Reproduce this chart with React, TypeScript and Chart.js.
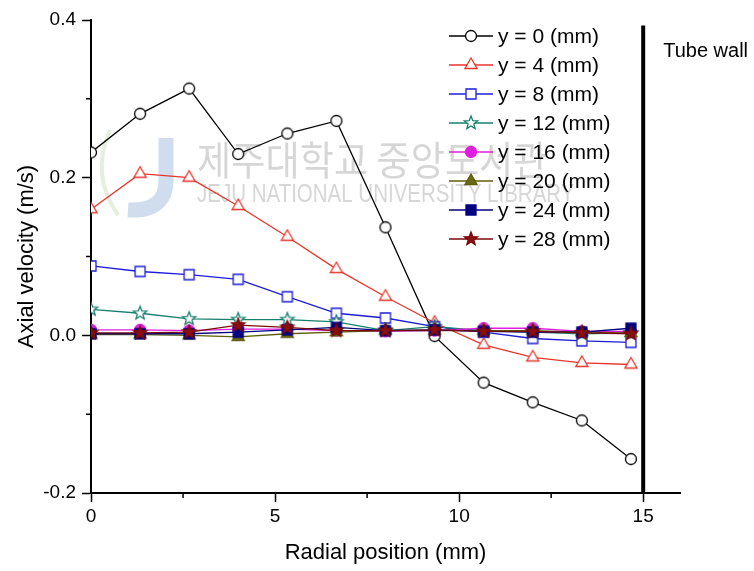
import React, { useEffect, useRef } from 'react';
import { Chart, registerables } from 'chart.js';

Chart.register(...registerables);

// ---------------- data ----------------
const radialPosition = [0, 1.333, 2.667, 4, 5.333, 6.667, 8, 9.333, 10.667, 12, 13.333, 14.667];

const seriesLabels = [
  'y = 0 (mm)', 'y = 4 (mm)', 'y = 8 (mm)', 'y = 12 (mm)',
  'y = 16 (mm)', 'y = 20 (mm)', 'y = 24 (mm)', 'y = 28 (mm)',
];

const velY0 = [0.232, 0.281, 0.313, 0.230, 0.256, 0.272, 0.137, -0.001, -0.060, -0.085, -0.108, -0.157];
const velY4 = [0.160, 0.205, 0.200, 0.164, 0.125, 0.084, 0.049, 0.016, -0.012, -0.028, -0.035, -0.037];
const velY8 = [0.088, 0.081, 0.077, 0.071, 0.049, 0.028, 0.022, 0.011, 0.004, -0.004, -0.007, -0.009];
const velY12 = [0.033, 0.028, 0.021, 0.020, 0.020, 0.017, 0.006, 0.011, 0.006, 0.004, 0.002, 0.003];
const velY16 = [0.007, 0.007, 0.006, 0.008, 0.008, 0.006, 0.005, 0.006, 0.009, 0.009, 0.005, 0.005];
const velY20 = [0.001, 0.001, 0.000, -0.002, 0.002, 0.004, 0.006, 0.006, 0.006, 0.006, 0.004, 0.003];
const velY24 = [0.002, 0.002, 0.002, 0.004, 0.007, 0.010, 0.006, 0.007, 0.005, 0.004, 0.004, 0.009];
const velY28 = [0.003, 0.003, 0.004, 0.013, 0.010, 0.006, 0.006, 0.007, 0.005, 0.005, 0.003, 0.002];

const seriesValues = [velY0, velY4, velY8, velY12, velY16, velY20, velY24, velY28];

const xTickLabels = ['0', '5', '10', '15'];
const yTickLabels = ['-0.2', '0.0', '0.2', '0.4'];

const xTitle = 'Radial position (mm)';
const yTitle = 'Axial velocity (m/s)';
const tubeWallLabel = 'Tube wall';
const tubeWallX = 15;
const watermarkKo = '제주대학교 중앙도서관';
const watermarkEn = 'JEJU NATIONAL UNIVERSITY LIBRARY';

// ---------------- styles ----------------
type Shape = 'circle' | 'triangle' | 'square' | 'star';
const seriesStyle: { color: string; shape: Shape; fill: string }[] = [
  { color: '#000000', shape: 'circle', fill: '#ffffff' },
  { color: '#e8352b', shape: 'triangle', fill: '#ffffff' },
  { color: '#1c1cd6', shape: 'square', fill: '#ffffff' },
  { color: '#17806d', shape: 'star', fill: '#ffffff' },
  { color: '#e01ee0', shape: 'circle', fill: '#e01ee0' },
  { color: '#5e5e0a', shape: 'triangle', fill: '#6b6b14' },
  { color: '#000080', shape: 'square', fill: '#000080' },
  { color: '#7a0a0a', shape: 'star', fill: '#8a1010' },
];

const FONT = '"Liberation Sans", Arial, sans-serif';

function makeMarker(shape: Shape, stroke: string, fill: string): HTMLCanvasElement {
  const size = 18;
  const c = document.createElement('canvas');
  c.width = size;
  c.height = size;
  const ctx = c.getContext('2d')!;
  const cx = size / 2;
  const cy = size / 2;
  ctx.lineWidth = 1.3;
  ctx.strokeStyle = stroke;
  ctx.fillStyle = fill;
  ctx.beginPath();
  if (shape === 'circle') {
    ctx.arc(cx, cy, 5.5, 0, Math.PI * 2);
  } else if (shape === 'square') {
    ctx.rect(cx - 5, cy - 5, 10, 10);
  } else if (shape === 'triangle') {
    const r = 7;
    ctx.moveTo(cx, cy - r);
    ctx.lineTo(cx + r * 0.866, cy + r * 0.5);
    ctx.lineTo(cx - r * 0.866, cy + r * 0.5);
    ctx.closePath();
  } else {
    const ro = 7;
    const ri = 3;
    for (let i = 0; i < 10; i++) {
      const a = -Math.PI / 2 + (i * Math.PI) / 5;
      const r = i % 2 === 0 ? ro : ri;
      const px = cx + r * Math.cos(a);
      const py = cy + r * Math.sin(a);
      if (i === 0) ctx.moveTo(px, py);
      else ctx.lineTo(px, py);
    }
    ctx.closePath();
  }
  ctx.fill();
  ctx.stroke();
  return c;
}

export default function App() {
  const canvasRef = useRef<HTMLCanvasElement | null>(null);

  useEffect(() => {
    const canvas = canvasRef.current;
    if (!canvas) return;

    const markers = seriesStyle.map((s) => makeMarker(s.shape, s.color, s.fill));

    const datasets = seriesLabels.map((label, i) => ({
      label,
      data: radialPosition.map((x, k) => ({ x, y: seriesValues[i][k] })),
      showLine: true,
      borderColor: seriesStyle[i].color,
      backgroundColor: seriesStyle[i].fill,
      borderWidth: 1.3,
      pointStyle: markers[i] as any,
      pointRadius: 5,
      pointHoverRadius: 5,
      order: seriesLabels.length - i,
      tension: 0,
    }));

    const decor = {
      id: 'decor',
      beforeDatasetsDraw(chart: any) {
        const ctx = chart.ctx as CanvasRenderingContext2D;
        ctx.save();
        // faint logo-like "J"
        ctx.strokeStyle = 'rgba(130,165,210,0.38)';
        ctx.lineWidth = 15;
        ctx.lineCap = 'butt';
        ctx.beginPath();
        ctx.moveTo(166, 138);
        ctx.lineTo(166, 180);
        ctx.quadraticCurveTo(166, 212, 128, 210);
        ctx.stroke();
        ctx.strokeStyle = 'rgba(170,200,150,0.3)';
        ctx.lineWidth = 4;
        ctx.beginPath();
        ctx.moveTo(110, 130);
        ctx.quadraticCurveTo(90, 175, 118, 215);
        ctx.stroke();
        // watermark text
        ctx.fillStyle = 'rgba(130,130,130,0.33)';
        ctx.textBaseline = 'middle';
        ctx.textAlign = 'left';
        ctx.save();
        ctx.translate(197, 160);
        ctx.scale(0.93, 1);
        ctx.font = '40px "Noto Sans CJK KR", sans-serif';
        ctx.fillText(watermarkKo, 0, 0);
        ctx.restore();
        ctx.save();
        ctx.translate(197, 195);
        ctx.scale(0.82, 1);
        ctx.font = '25px ' + FONT;
        ctx.fillText(watermarkEn, 0, 0);
        ctx.restore();
        ctx.restore();
      },
      afterDatasetsDraw(chart: any) {
        const ctx = chart.ctx as CanvasRenderingContext2D;
        const xs = chart.scales.x;
        const ys = chart.scales.y;
        const area = chart.chartArea;
        ctx.save();
        // minor ticks
        ctx.strokeStyle = '#000';
        ctx.lineWidth = 1.5;
        ctx.beginPath();
        for (const v of [2.5, 7.5, 12.5]) {
          const px = xs.getPixelForValue(v);
          ctx.moveTo(px, area.bottom);
          ctx.lineTo(px, area.bottom + 5);
        }
        for (const v of [0.3, 0.1, -0.1]) {
          const py = ys.getPixelForValue(v);
          ctx.moveTo(area.left, py);
          ctx.lineTo(area.left - 5, py);
        }
        ctx.stroke();
        // tube wall
        const wx = xs.getPixelForValue(tubeWallX);
        ctx.lineWidth = 4;
        ctx.beginPath();
        ctx.moveTo(wx, ys.getPixelForValue(0.393));
        ctx.lineTo(wx, area.bottom);
        ctx.stroke();
        ctx.fillStyle = '#000';
        ctx.font = '20px ' + FONT;
        ctx.textBaseline = 'middle';
        ctx.textAlign = 'left';
        ctx.fillText(tubeWallLabel, wx + 20, 51);
        // legend
        const lx0 = 449;
        const lx1 = 493;
        const ly0 = 36;
        const dy = 29;
        ctx.font = '21px ' + FONT;
        seriesLabels.forEach((label, i) => {
          const y = ly0 + i * dy;
          ctx.strokeStyle = seriesStyle[i].color;
          ctx.lineWidth = 1.3;
          ctx.beginPath();
          ctx.moveTo(lx0, y);
          ctx.lineTo(lx1, y);
          ctx.stroke();
          const m = markers[i];
          ctx.drawImage(m, (lx0 + lx1) / 2 - m.width / 2, y - m.height / 2);
          ctx.fillStyle = '#000';
          ctx.fillText(label, lx1 + 5, y + 1);
        });
        ctx.restore();
      },
    };

    const chart = new Chart(canvas, {
      type: 'scatter',
      data: { datasets: datasets as any },
      options: {
        animation: false,
        responsive: false,
        maintainAspectRatio: false,
        events: [],
        layout: { padding: { top: 20, right: 74, left: 0, bottom: 0 } },
        plugins: {
          legend: { display: false },
          tooltip: { enabled: false },
          title: { display: false },
        },
        scales: {
          x: {
            type: 'linear',
            min: 0,
            max: 16,
            afterFit: (s: any) => { s.height = 78; },
            border: { display: true, color: '#000', width: 2 },
            grid: {
              display: true,
              drawOnChartArea: false,
              drawTicks: true,
              tickLength: 9,
              tickWidth: 1.5,
              tickColor: (c: any) => (xTickLabels.includes(String(c.tick?.value)) ? '#000' : 'rgba(0,0,0,0)'),
            },
            ticks: {
              stepSize: 2.5,
              includeBounds: false,
              autoSkip: false,
              maxRotation: 0,
              padding: 3,
              color: '#000',
              font: { family: FONT, size: 19 },
              callback: (v: any) => {
                const s = String(v);
                return xTickLabels.includes(s) ? s : '';
              },
            },
            title: {
              display: true,
              text: xTitle,
              color: '#000',
              font: { family: FONT, size: 22 },
              padding: { top: 0, bottom: 5 },
            },
          },
          y: {
            type: 'linear',
            min: -0.2,
            max: 0.4,
            afterFit: (s: any) => { s.width = 91; },
            border: { display: true, color: '#000', width: 2 },
            grid: {
              display: true,
              drawOnChartArea: false,
              drawTicks: true,
              tickLength: 9,
              tickWidth: 1.5,
              tickColor: (c: any) => {
                const v = c.tick?.value;
                return typeof v === 'number' && yTickLabels.includes(v.toFixed(1)) ? '#000' : 'rgba(0,0,0,0)';
              },
            },
            ticks: {
              stepSize: 0.1,
              includeBounds: false,
              autoSkip: false,
              padding: 6,
              color: '#000',
              font: { family: FONT, size: 19 },
              callback: (v: any) => {
                const s = Number(v).toFixed(1);
                return yTickLabels.includes(s) ? s : '';
              },
            },
            title: {
              display: true,
              text: yTitle,
              color: '#000',
              font: { family: FONT, size: 22 },
              padding: { top: 14, bottom: 0 },
            },
          },
        },
      },
      plugins: [decor],
    });

    return () => {
      chart.destroy();
    };
  }, []);

  return (
    <div style={{ position: 'fixed', left: 0, top: 0, width: 754, height: 571, background: '#fff' }}>
      <canvas ref={canvasRef} width={754} height={571} style={{ display: 'block', width: 754, height: 571 }} />
    </div>
  );
}
